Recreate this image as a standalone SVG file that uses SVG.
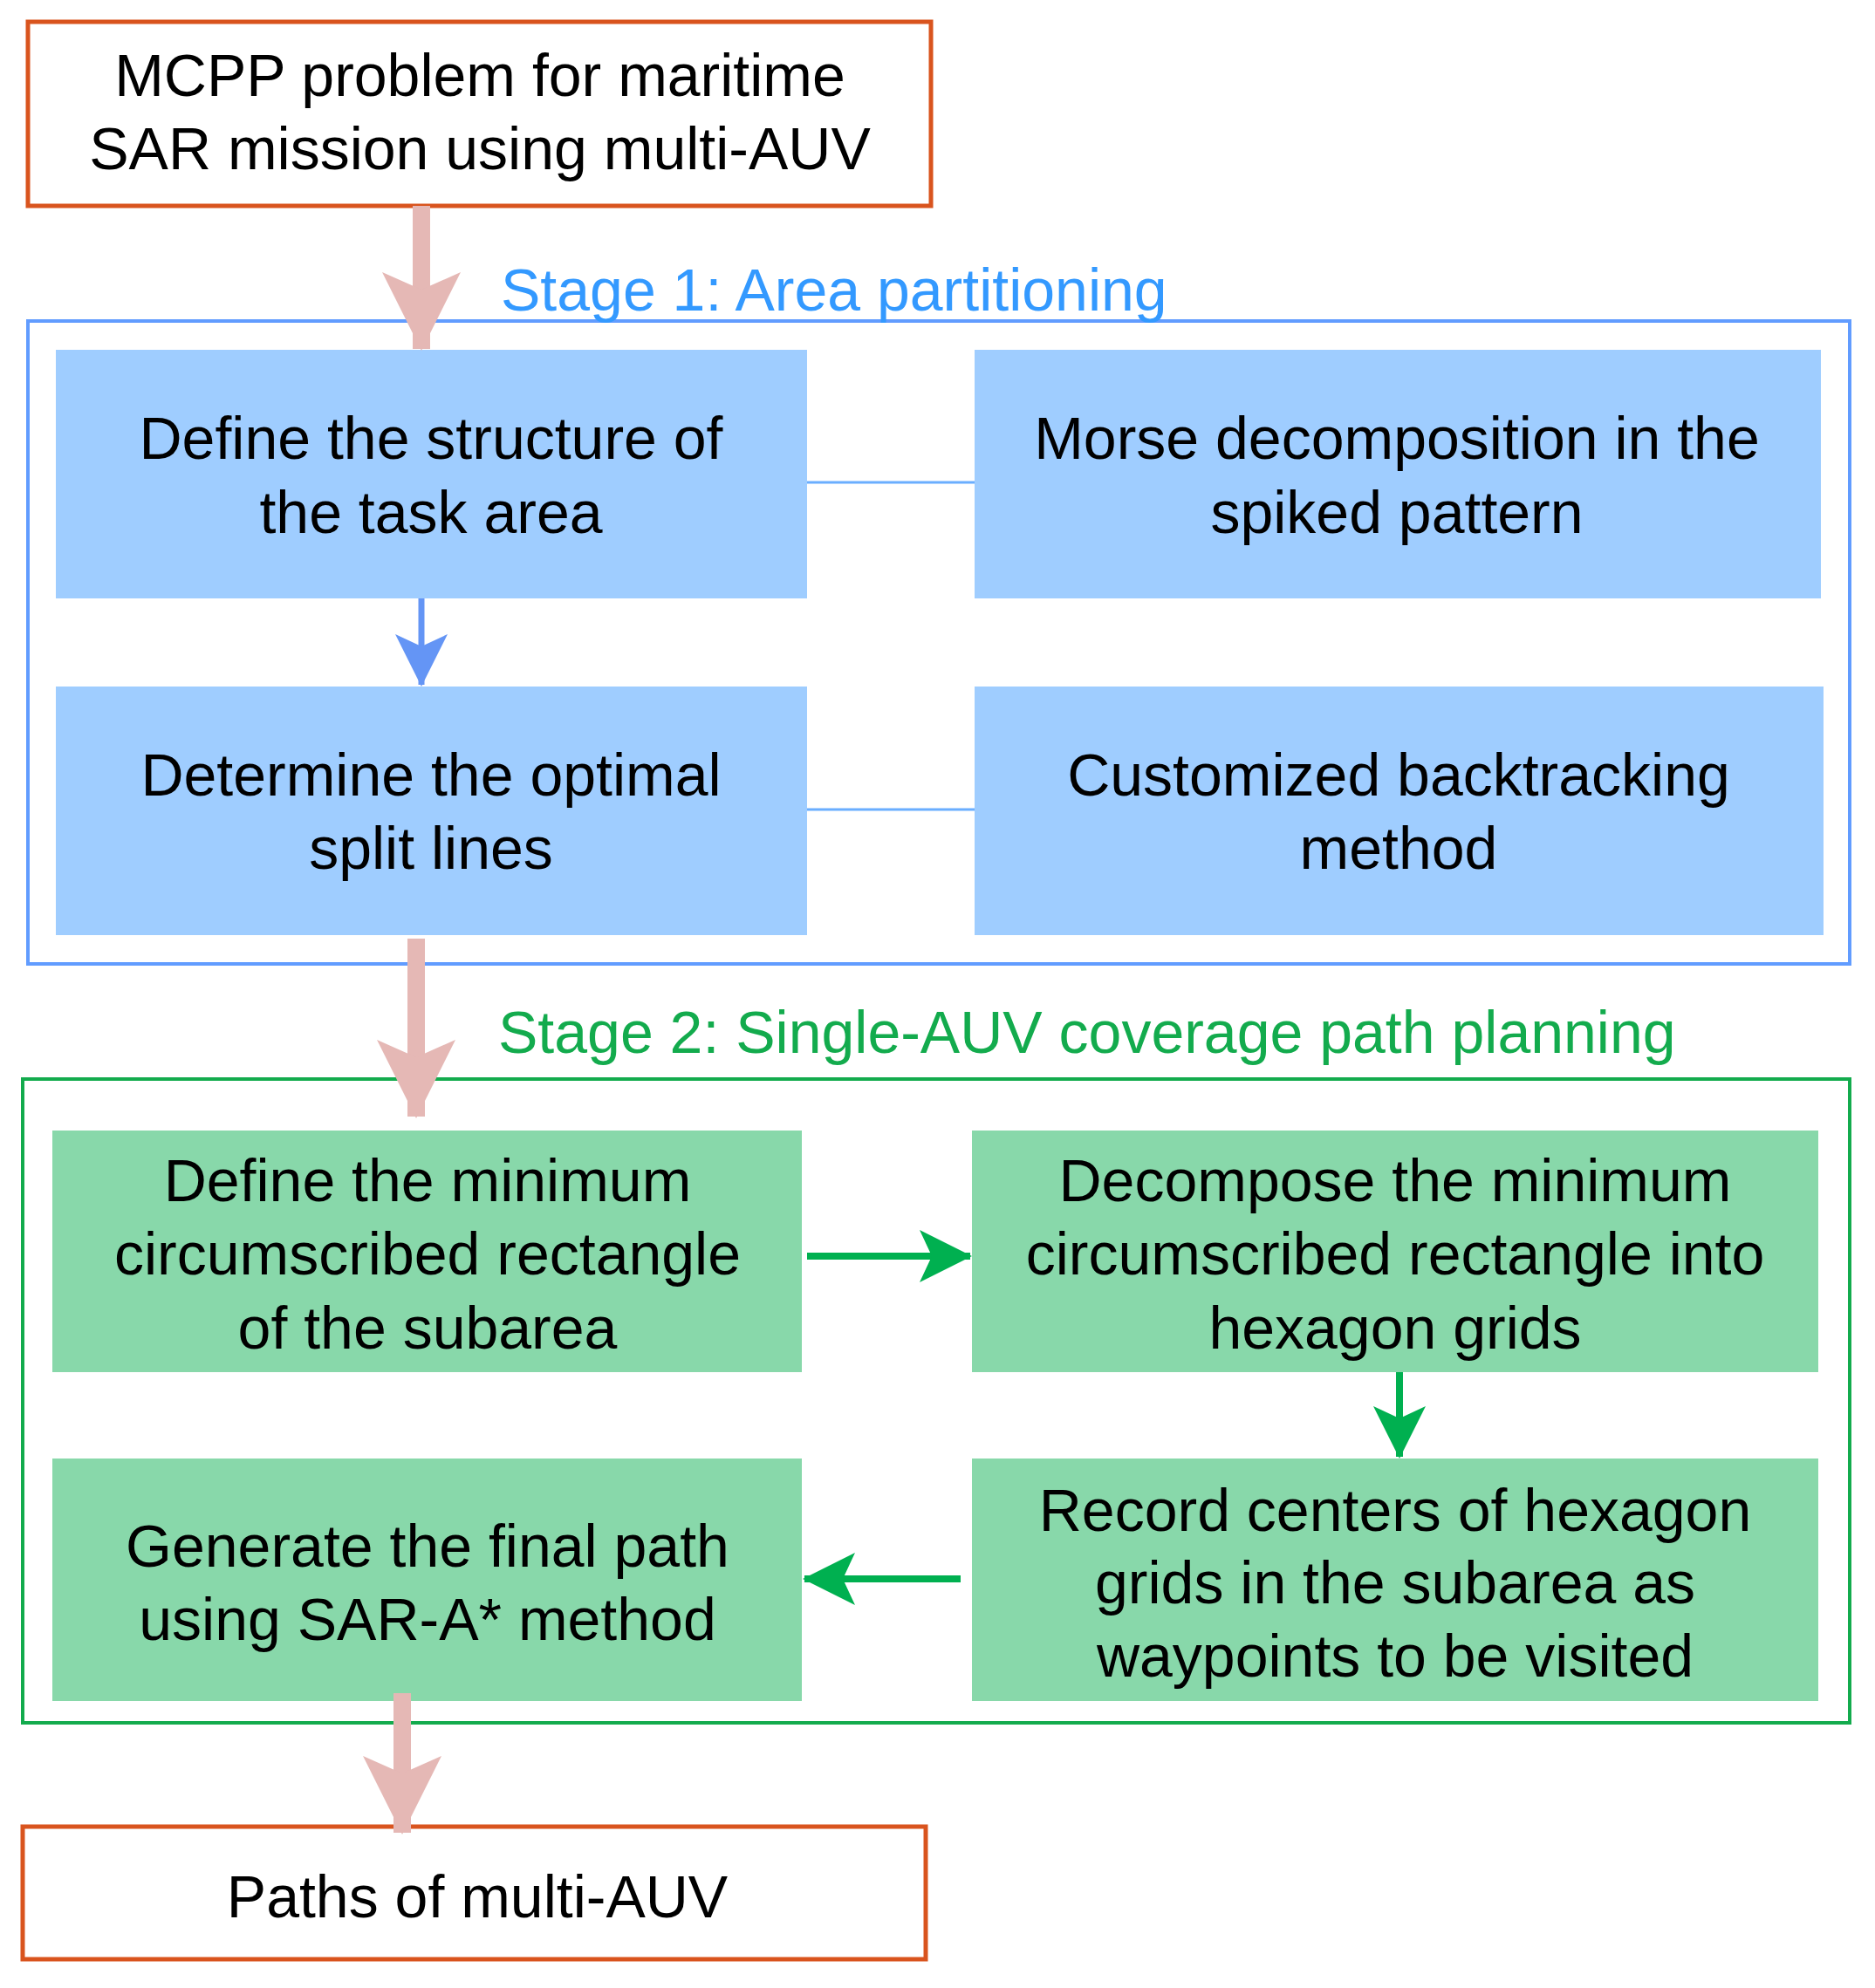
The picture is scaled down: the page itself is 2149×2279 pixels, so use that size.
<svg xmlns="http://www.w3.org/2000/svg" width="2149" height="2279" viewBox="0 0 2149 2279">
<style>
text{font-family:"Liberation Sans",Arial,sans-serif;font-size:68px;text-anchor:middle;fill:#000}
.term{fill:#fff;stroke:#d9541e;stroke-width:5}
.blue{fill:#9fcdff}
.green{fill:#88d8aa}
.lbl{text-anchor:start}
</style>
<defs>
<marker id="pk" markerUnits="userSpaceOnUse" markerWidth="90" markerHeight="90" refX="88" refY="45" orient="auto" viewBox="0 0 90 90"><path d="M0,0 L90,45 L0,90 L20,45 Z" fill="#e5b8b5"/></marker>
<marker id="bl" markerUnits="userSpaceOnUse" markerWidth="60" markerHeight="60" refX="58" refY="30" orient="auto" viewBox="0 0 60 60"><path d="M0,0 L60,30 L0,60 L14,30 Z" fill="#6495f5"/></marker>
<marker id="gr" markerUnits="userSpaceOnUse" markerWidth="60" markerHeight="60" refX="58" refY="30" orient="auto" viewBox="0 0 60 60"><path d="M0,0 L60,30 L0,60 L14,30 Z" fill="#00b050"/></marker>
</defs>
<rect width="2149" height="2279" fill="#fff"/>
<rect x="32" y="368" width="2088" height="737" fill="none" stroke="#619cff" stroke-width="4"/>
<text class="lbl" x="574" y="356" style="fill:#3399ff">Stage 1: Area partitioning</text>
<rect x="26" y="1237" width="2094" height="738" fill="none" stroke="#13ab4d" stroke-width="4"/>
<text class="lbl" x="571" y="1207" style="fill:#13ab4d">Stage 2: Single-AUV coverage path planning</text>
<g id="start"><rect class="term" x="32" y="25" width="1035" height="211"/><text x="550" y="110">MCPP problem for maritime</text><text x="550" y="194">SAR mission using multi-AUV</text></g>
<g id="b1"><rect class="blue" x="64" y="401" width="861" height="285"/><text x="494" y="526">Define the structure of</text><text x="494" y="611">the task area</text></g>
<g id="b2"><rect class="blue" x="1117" y="401" width="970" height="285"/><text x="1601" y="526">Morse decomposition in the</text><text x="1601" y="611">spiked pattern</text></g>
<g id="b3"><rect class="blue" x="64" y="787" width="861" height="285"/><text x="494" y="912">Determine the optimal</text><text x="494" y="996">split lines</text></g>
<g id="b4"><rect class="blue" x="1117" y="787" width="973" height="285"/><text x="1603" y="912">Customized backtracking</text><text x="1603" y="996">method</text></g>
<g id="g1"><rect class="green" x="60" y="1296" width="859" height="277"/><text x="490" y="1377">Define the minimum</text><text x="490" y="1461">circumscribed rectangle</text><text x="490" y="1546">of the subarea</text></g>
<g id="g2"><rect class="green" x="1114" y="1296" width="970" height="277"/><text x="1599" y="1377">Decompose the minimum</text><text x="1599" y="1461">circumscribed rectangle into</text><text x="1599" y="1546">hexagon grids</text></g>
<g id="g3"><rect class="green" x="60" y="1672" width="859" height="278"/><text x="490" y="1796">Generate the final path</text><text x="490" y="1880">using SAR-A* method</text></g>
<g id="g4"><rect class="green" x="1114" y="1672" width="970" height="278"/><text x="1599" y="1755">Record centers of hexagon</text><text x="1599" y="1838">grids in the subarea as</text><text x="1599" y="1922">waypoints to be visited</text></g>
<g id="end"><rect class="term" x="26" y="2094" width="1035" height="152"/><text x="547" y="2198">Paths of multi-AUV</text></g>
<g id="connectors" fill="none">
<path d="M483,236 V400" stroke="#e5b8b5" stroke-width="20" marker-end="url(#pk)"/>
<path d="M477,1076 V1280" stroke="#e5b8b5" stroke-width="20" marker-end="url(#pk)"/>
<path d="M461,1941 V2101" stroke="#e5b8b5" stroke-width="20" marker-end="url(#pk)"/>
<path d="M483,686 V785" stroke="#6495f5" stroke-width="7" marker-end="url(#bl)"/>
<path d="M925,553 H1117" stroke="#6aaeff" stroke-width="3"/>
<path d="M925,928 H1117" stroke="#6aaeff" stroke-width="3"/>
<path d="M925,1440 H1112" stroke="#00b050" stroke-width="8" marker-end="url(#gr)"/>
<path d="M1604,1573 V1670" stroke="#00b050" stroke-width="8" marker-end="url(#gr)"/>
<path d="M1101,1810 H922" stroke="#00b050" stroke-width="8" marker-end="url(#gr)"/>
</g>
</svg>
